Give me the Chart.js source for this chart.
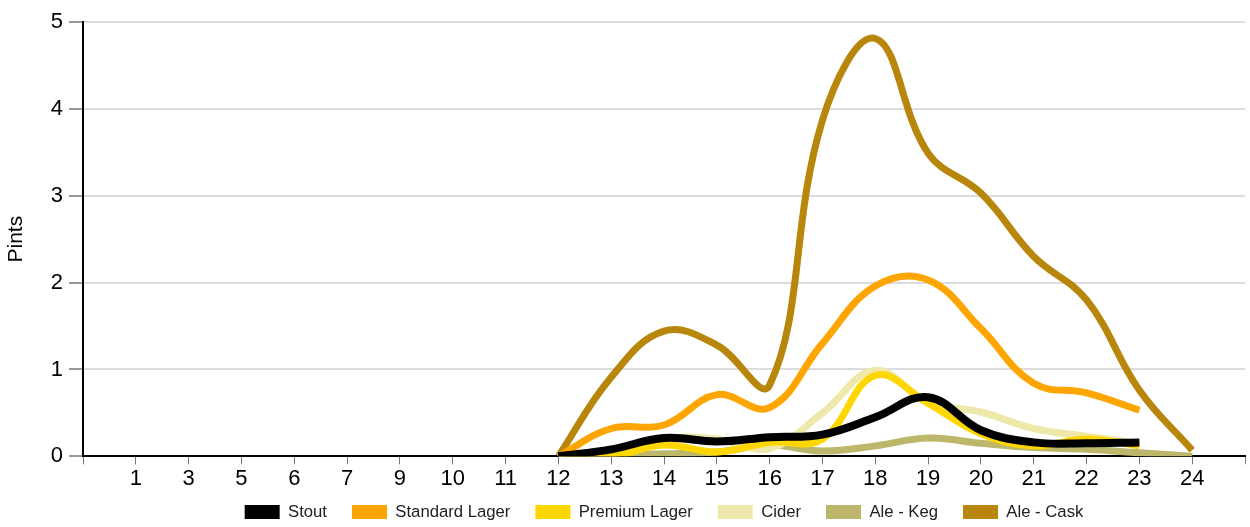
<!DOCTYPE html>
<html><head><meta charset="utf-8">
<script src="https://cdn.jsdelivr.net/npm/chart.js@4.4.0/dist/chart.umd.min.js"></script>
<style>html,body{margin:0;padding:0;background:#fff;overflow:hidden}#wrap{width:1250px;height:527px;position:relative}</style>
</head><body><div id="wrap"><canvas id="c"></canvas></div>
<script>
const hours = ['1','3','5','6','7','9','10','11','12','13','14','15','16','17','18','19','20','21','22','23','24'];
const stout         = [null,null,null,null,null,null,null,null,0,0.08,0.21,0.17,0.22,0.25,0.45,0.68,0.30,0.16,0.15,0.16,null];
const standardLager = [null,null,null,null,null,null,null,null,0,0.32,0.36,0.71,0.56,1.30,1.96,2.03,1.47,0.84,0.73,0.53,null];
const premiumLager  = [null,null,null,null,null,null,null,null,0,0.00,0.13,0.05,0.16,0.20,0.93,0.61,0.26,0.12,0.20,0.12,null];
const cider         = [null,null,null,null,null,null,null,null,0,0.02,0.20,0.20,0.09,0.50,0.99,0.62,0.51,0.32,0.23,0.15,null];
const aleKeg        = [null,null,null,null,null,null,null,null,0,0.02,0.03,0.05,0.13,0.06,0.12,0.21,0.15,0.10,0.08,0.04,0];
const aleCask       = [null,null,null,null,null,null,null,null,0,0.91,1.44,1.28,0.82,3.87,4.81,3.49,3.03,2.30,1.80,0.76,0.07];
const yTicks = [0,1,2,3,4,5];

const FONT = "'Liberation Sans', Arial, sans-serif";
const LEGEND_FONT = 16.7, LEGEND_PAD = 25;
const toPts = arr => arr.map((v,i) => ({x: i + 1, y: v}));
const series = [
  {label:'Stout', data: stout, color:'#000000', w:8},
  {label:'Standard Lager', data: standardLager, color:'#FFA500', w:7},
  {label:'Premium Lager', data: premiumLager, color:'#FFD700', w:7},
  {label:'Cider', data: cider, color:'#EEE8AA', w:7},
  {label:'Ale - Keg', data: aleKeg, color:'#BDB76B', w:7},
  {label:'Ale - Cask', data: aleCask, color:'#B8860B', w:7}
];

const legendShift = {
  id: 'legendShift',
  afterLayout(chart) {
    const l = chart.legend, a = chart.chartArea;
    if (!l) return;
    l.left = a.left; l.right = a.right; l.width = a.right - a.left;
    const h = l.bottom - l.top;
    l.top = 512 - LEGEND_PAD - LEGEND_FONT / 2;
    l.bottom = l.top + h;
  }
};

new Chart(document.getElementById('c'), {
  type: 'line',
  data: {
    datasets: series.map(s => ({
      label: s.label,
      data: toPts(s.data),
      borderColor: s.color,
      backgroundColor: s.color,
      borderWidth: s.w,
      pointRadius: 0,
      pointHoverRadius: 0,
      tension: 0.4,
      fill: false,
      spanGaps: false
    }))
  },
  options: {
    responsive: true,
    maintainAspectRatio: false,
    animation: false,
    layout: { padding: { top: 22, right: 5, left: 0, bottom: -21 } },
    plugins: {
      tooltip: { enabled: false },
      legend: {
        position: 'bottom',
        labels: {
          boxWidth: 35, boxHeight: 14, padding: LEGEND_PAD,
          color: '#222',
          font: { family: FONT, size: LEGEND_FONT },
          generateLabels: (chart) => Chart.defaults.plugins.legend.labels.generateLabels(chart)
            .map(l => Object.assign(l, { lineWidth: 0, fillStyle: l.strokeStyle }))
        }
      }
    },
    scales: {
      x: {
        type: 'linear', min: 0, max: hours.length + 1,
        afterFit: (s) => { s.height = 40; },
        ticks: {
          stepSize: 1, autoSkip: false, maxRotation: 0, padding: 1,
          color: '#000', font: { family: FONT, size: 22 },
          callback: (v) => (v >= 1 && v <= hours.length) ? hours[v - 1] : ''
        },
        grid: { drawOnChartArea: false, drawTicks: true, tickLength: 8, color: '#777', lineWidth: 1 },
        border: { color: '#000', width: 2 }
      },
      y: {
        min: yTicks[0], max: yTicks[yTicks.length - 1],
        afterFit: (s) => { s.width = 83; },
        ticks: { stepSize: 1, padding: 6, color: '#000', font: { family: FONT, size: 22 } },
        grid: { color: '#dcdcdc', lineWidth: 2, tickLength: 14, tickColor: '#999' },
        border: { color: '#000', width: 2 },
        title: { display: true, text: 'Pints', color: '#000', font: { family: FONT, size: 21 }, padding: { top: 4, bottom: 0 } }
      }
    }
  },
  plugins: [legendShift]
});
</script>
</body></html>
